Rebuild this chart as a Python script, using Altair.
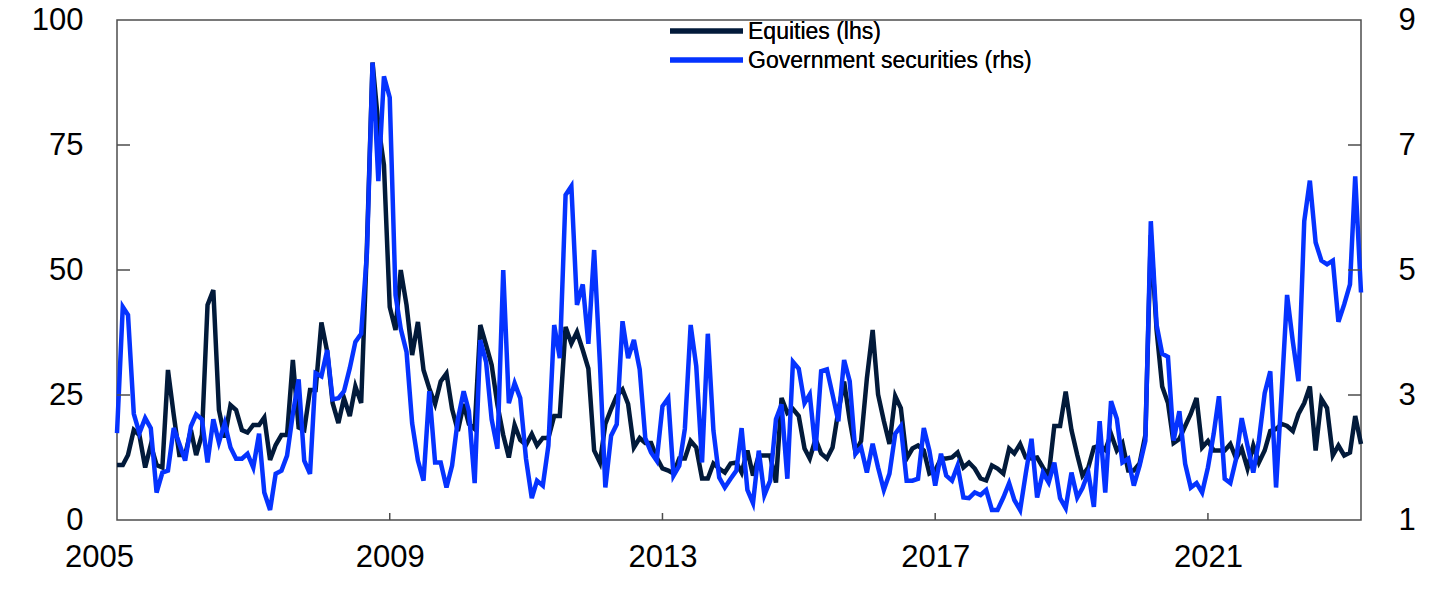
import altair as alt
import pandas as pd

# Monthly data, Jan 2005 - Apr 2023
equities = [
    11, 11, 13, 18, 17, 10.5, 15, 11, 10.5, 30, 21, 13,
    13, 18, 13, 17, 43, 46, 22, 16.5, 23, 22, 18, 17.5,
    19, 19, 20.5, 12, 15, 17, 17, 32, 18.5, 18, 26, 26,
    39.5, 33.7, 23.4, 19.4, 24.4, 20.8, 26.7, 23.4, 55, 91.5, 79, 71,
    42.6, 38, 50, 43, 33, 39.6, 30, 26.3, 23.2, 27.7, 29.3, 22.2,
    17.8, 23.2, 19.2, 18.2, 39, 35, 31, 23, 17, 12.5, 19, 16,
    15, 17.2, 14.9, 16.4, 16.4, 20.8, 20.8, 38.6, 35.3, 37.6, 34, 30.3,
    13.9, 11.5, 19.2, 22.2, 24.8, 26.1, 23.2, 14.5, 16.4, 15.4, 15.4, 12.5,
    10.3, 9.9, 9.3, 12.3, 12.3, 15.8, 14.5, 8.3, 8.3, 11.3, 10.3, 9.5,
    11.3, 11.5, 9.5, 13.9, 8.9, 12.9, 12.9, 12.9, 7.5, 24.4, 21.4, 22.2,
    20.8, 14.3, 12.3, 16.2, 13.3, 12.3, 14.5, 21.8, 27.7, 20, 13.5, 15.8,
    28.3, 38, 25.1, 19.8, 15.2, 24.8, 22.4, 12.3, 14.3, 14.9, 13.9, 9.3,
    9.9, 12.3, 12.3, 12.5, 13.5, 10.5, 11.5, 10.3, 8.3, 7.9, 10.9, 10.3,
    9.3, 14.3, 13.3, 15.2, 12.5, 12.3, 12.5, 10.5, 8.9, 18.8, 18.8, 25.7,
    18, 13, 8.9, 10.5, 14.5, 14.9, 14, 17.2, 13.9, 15.4, 9.9, 9.9,
    11.3, 17, 57, 38, 26.7, 23.4, 15.4, 16.2, 18.8, 21.2, 24.4, 14.5,
    15.8, 13.9, 13.9, 13.9, 15.2, 12.3, 14.3, 10.3, 14.9, 11.5, 13.9, 17.8,
    18.2, 19.2, 18.8, 17.8, 21.2, 23.4, 26.7, 13.9, 24.2, 22.4, 12.9, 14.9,
    12.9, 13.5, 20.8, 15.2,
]

government = [
    2.39, 4.41, 4.28, 2.70, 2.39, 2.63, 2.47, 1.44, 1.76, 1.79, 2.47, 2.22,
    1.95, 2.5, 2.69, 2.61, 1.92, 2.61, 2.24, 2.55, 2.16, 1.98, 1.98, 2.06,
    1.84, 2.38, 1.44, 1.16, 1.74, 1.79, 2.03, 2.7, 3.25, 1.95, 1.74, 3.35,
    3.3, 3.72, 2.93, 2.95, 3.06, 3.43, 3.85, 3.98, 5.28, 8.32, 6.42, 8.1,
    7.76, 4.6, 4.06, 3.69, 2.55, 1.95, 1.63, 3.06, 1.92, 1.92, 1.52, 1.87,
    2.61, 3.06, 2.74, 1.59, 3.88, 3.53, 2.61, 2.14, 5.0, 2.87, 3.19, 2.95,
    1.98, 1.35, 1.63, 1.55, 2.19, 4.12, 3.59, 6.2, 6.34, 4.44, 4.77, 3.82,
    5.32, 3.5, 1.52, 2.35, 2.53, 4.18, 3.59, 3.88, 3.41, 2.31, 2.08, 1.95,
    2.82, 2.95, 1.71, 1.87, 2.46, 4.12, 3.46, 1.92, 3.98, 2.43, 1.68, 1.52,
    1.66, 1.79, 2.47, 1.48, 1.27, 2.11, 1.4, 1.63, 2.61, 2.85, 1.66, 3.53,
    3.42, 2.87, 3.01, 2.11, 3.38, 3.41, 3.01, 2.58, 3.56, 3.22, 2.06, 2.16,
    1.76, 2.22, 1.84, 1.48, 1.74, 2.38, 2.5, 1.63, 1.63, 1.66, 2.47, 2.11,
    1.55, 2.06, 1.71, 1.63, 1.87, 1.36, 1.35, 1.44, 1.4, 1.48, 1.16, 1.16,
    1.36, 1.59, 1.32, 1.16, 1.74, 2.3, 1.36, 1.76, 1.6, 1.92, 1.35, 1.19,
    1.76, 1.36, 1.51, 1.76, 1.21, 2.58, 1.44, 2.9, 2.62, 1.92, 1.98, 1.55,
    1.87, 2.27, 5.78, 4.12, 3.66, 3.61, 2.27, 2.74, 1.9, 1.52, 1.59, 1.44,
    1.84, 2.38, 2.98, 1.66, 1.59, 1.98, 2.63, 2.19, 1.76, 2.27, 3.03, 3.38,
    1.52, 3.1, 4.6, 3.85, 3.22, 5.78, 6.43, 5.44, 5.15, 5.09, 5.15, 4.17,
    4.45, 4.77, 6.5, 4.64,
]

year_ticks = [2005, 2009, 2013, 2017, 2021]
inner_year_ticks = [2009, 2013, 2017, 2021]
left_ticks = [0, 25, 50, 75, 100]
right_ticks = [1, 3, 5, 7, 9]
legend_labels = ["Equities (lhs)", "Government securities (rhs)"]

NAVY = "#021a3a"
BLUE = "#0533ff"
FRAME = "#4d4d4d"
FONT = "Liberation Sans"
W, H = 1244, 500

dates = pd.date_range("2005-01-01", periods=len(equities), freq="MS")
df = pd.DataFrame({"date": dates, "equities": equities, "government": government})

x_scale = alt.Scale(domain=[alt.DateTime(year=2005, month=1, date=1),
                            alt.DateTime(year=2023, month=4, date=1)])
left_scale = alt.Scale(domain=[0, 100])
right_scale = alt.Scale(domain=[1, 9])

x_axis = alt.Axis(values=[alt.DateTime(year=y, month=1, date=1) for y in year_ticks],
                  format="%Y", title=None, labelPadding=22, labelFlush=False,
                  labelOffset={"expr": "year(datum.value) == 2005 ? -18 : 0"})
x_enc = alt.X("date:T", scale=x_scale, axis=x_axis)

line_eq = alt.Chart(df).mark_line(color=NAVY, strokeWidth=4.5).encode(
    x=x_enc,
    y=alt.Y("equities:Q", scale=left_scale,
            axis=alt.Axis(values=left_ticks, orient="left", title=None, labelPadding=34)),
)

line_gov = alt.Chart(df).mark_line(color=BLUE, strokeWidth=4.5).encode(
    x=x_enc,
    y=alt.Y("government:Q", scale=right_scale,
            axis=alt.Axis(values=right_ticks, orient="right", title=None, labelPadding=37)),
)

lt = pd.DataFrame({"v": left_ticks[1:-1]})
rt = pd.DataFrame({"v": right_ticks[1:-1]})
bt = pd.DataFrame({"date": pd.to_datetime([f"{y}-01-01" for y in inner_year_ticks])})

left_tick_marks = alt.Chart(lt).mark_rule(color=FRAME, strokeWidth=1.5).encode(
    y=alt.Y("v:Q", scale=left_scale, axis=None),
    x=alt.value(0), x2=alt.value(13),
)
right_tick_marks = alt.Chart(rt).mark_rule(color=FRAME, strokeWidth=1.5).encode(
    y=alt.Y("v:Q", scale=right_scale, axis=None),
    x=alt.value(W - 13), x2=alt.value(W),
)
bottom_tick_marks = alt.Chart(bt).mark_rule(color=FRAME, strokeWidth=1.5).encode(
    x=x_enc,
    y=alt.value(H - 7), y2=alt.value(H),
)

leg_df = pd.DataFrame({"label": legend_labels})
leg_line1 = alt.Chart(leg_df).mark_rule(color=NAVY, strokeWidth=5).encode(
    x=alt.value(553), x2=alt.value(626), y=alt.value(11))
leg_line2 = alt.Chart(leg_df).mark_rule(color=BLUE, strokeWidth=5).encode(
    x=alt.value(553), x2=alt.value(626), y=alt.value(40))
leg_text1 = alt.Chart(leg_df).mark_text(align="left", baseline="middle", font=FONT,
                                        fontSize=23, color="black").encode(
    x=alt.value(631), y=alt.value(12), text=alt.value(legend_labels[0]))
leg_text2 = alt.Chart(leg_df).mark_text(align="left", baseline="middle", font=FONT,
                                        fontSize=23, color="black").encode(
    x=alt.value(631), y=alt.value(41), text=alt.value(legend_labels[1]))

chart = alt.layer(
    line_eq, line_gov, left_tick_marks, right_tick_marks, bottom_tick_marks,
    leg_line1, leg_line2, leg_text1, leg_text2,
).resolve_scale(y="independent").properties(
    width=W, height=H,
    padding={"left": 109, "top": 12, "right": 76, "bottom": 60},
    autosize=alt.AutoSizeParams(type="none"),
).configure_view(
    stroke=FRAME, strokeWidth=1.5,
).configure_axis(
    domain=False, ticks=False, grid=False,
    labelFont=FONT, labelFontSize=31, labelColor="black",
)

chart.save("out.html", embed_options={"renderer": "svg", "actions": False})
